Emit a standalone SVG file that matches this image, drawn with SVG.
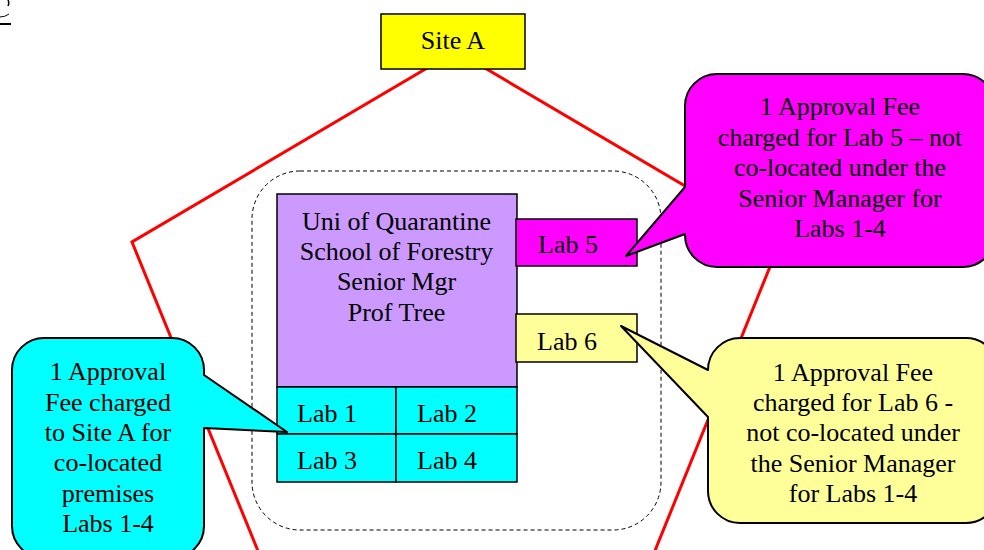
<svg xmlns="http://www.w3.org/2000/svg" width="984" height="550" viewBox="0 0 984 550">
<style>
text{font-family:"Liberation Serif","Times New Roman",serif;font-size:26px;fill:#000}
.c{text-anchor:middle}
.box{stroke:#000;stroke-width:1.5}
.callout{stroke:#000;stroke-width:2;stroke-linejoin:round}
</style>
<rect width="984" height="550" fill="#fff"/>
<g id="artifact" fill="none" stroke="#000">
<path d="M8,0 Q9.5,3 8,6" stroke-width="1.5"/>
<path d="M0,17 Q5,17 9,14" stroke-width="1"/>
<rect x="0" y="23" width="11" height="2" fill="#000" stroke="none"/>
</g>
<g id="connectors">
<polygon points="456,51 780,242 635,600 278,600 132,242" fill="none" stroke="#ff0000" stroke-width="3"/>
<rect x="252" y="171" width="409" height="359" rx="48" ry="48" fill="none" stroke="#000" stroke-width="1" stroke-dasharray="4,3"/>
</g>
<g id="siteA">
<rect class="box" x="381" y="14" width="144" height="55" fill="#ffff00" stroke-width="2"/>
<text class="c" x="453" y="49">Site A</text>
</g>
<g id="seniorMgr">
<rect class="box" x="277" y="194" width="240" height="193" fill="#cc99ff"/>
<text class="c" x="396.5" y="230">Uni of Quarantine</text>
<text class="c" x="396.5" y="260">School of Forestry</text>
<text class="c" x="396.5" y="290">Senior Mgr</text>
<text class="c" x="396.5" y="321">Prof Tree</text>
</g>
<g id="lab1">
<rect class="box" x="277" y="387" width="119" height="47" fill="#00ffff"/>
<text x="297" y="422">Lab 1</text>
</g>
<g id="lab2">
<rect class="box" x="396" y="387" width="121" height="47" fill="#00ffff"/>
<text x="417" y="422">Lab 2</text>
</g>
<g id="lab3">
<rect class="box" x="277" y="434" width="119" height="48" fill="#00ffff"/>
<text x="297" y="469">Lab 3</text>
</g>
<g id="lab4">
<rect class="box" x="396" y="434" width="121" height="48" fill="#00ffff"/>
<text x="417" y="469">Lab 4</text>
</g>
<g id="lab5">
<rect class="box" x="516" y="219" width="121" height="47" fill="#ff00ff"/>
<text x="538" y="253">Lab 5</text>
</g>
<g id="lab6">
<rect class="box" x="516" y="314" width="121" height="48" fill="#ffff99"/>
<text x="537" y="350">Lab 6</text>
</g>
<g id="calloutLab5">
<path class="callout" fill="#ff00ff" d="M717,74 H963 A32,32 0 0 1 995,106 V235 A32,32 0 0 1 963,267 H717 A32,32 0 0 1 685,235 V234 L626,256 L685,187 V106 A32,32 0 0 1 717,74 Z"/>
<text class="c" x="840" y="115">1 Approval Fee</text>
<text class="c" x="840" y="146">charged for Lab 5 – not</text>
<text class="c" x="840" y="176">co-located under the</text>
<text class="c" x="840" y="207">Senior Manager for</text>
<text class="c" x="840" y="237">Labs 1-4</text>
</g>
<g id="calloutLab6">
<path class="callout" fill="#ffff99" d="M740,338 H966 A32,32 0 0 1 998,370 V491 A32,32 0 0 1 966,523 H740 A32,32 0 0 1 708,491 V417 L621,326 L708,370 A32,32 0 0 1 740,338 Z"/>
<text class="c" x="853" y="381">1 Approval Fee</text>
<text class="c" x="853" y="411">charged for Lab 6 -</text>
<text class="c" x="853" y="441">not co-located under</text>
<text class="c" x="853" y="472">the Senior Manager</text>
<text class="c" x="853" y="502">for Labs 1-4</text>
</g>
<g id="calloutSiteA">
<path class="callout" fill="#00ffff" d="M44,338 H172 A32,32 0 0 1 204,370 V375 L287,432 L204,428 V526 A32,32 0 0 1 172,558 H44 A32,32 0 0 1 12,526 V370 A32,32 0 0 1 44,338 Z"/>
<text class="c" x="108" y="380">1 Approval</text>
<text class="c" x="108" y="411">Fee charged</text>
<text class="c" x="108" y="441">to Site A for</text>
<text class="c" x="108" y="471">co-located</text>
<text class="c" x="108" y="502">premises</text>
<text class="c" x="108" y="532">Labs 1-4</text>
</g>
</svg>
